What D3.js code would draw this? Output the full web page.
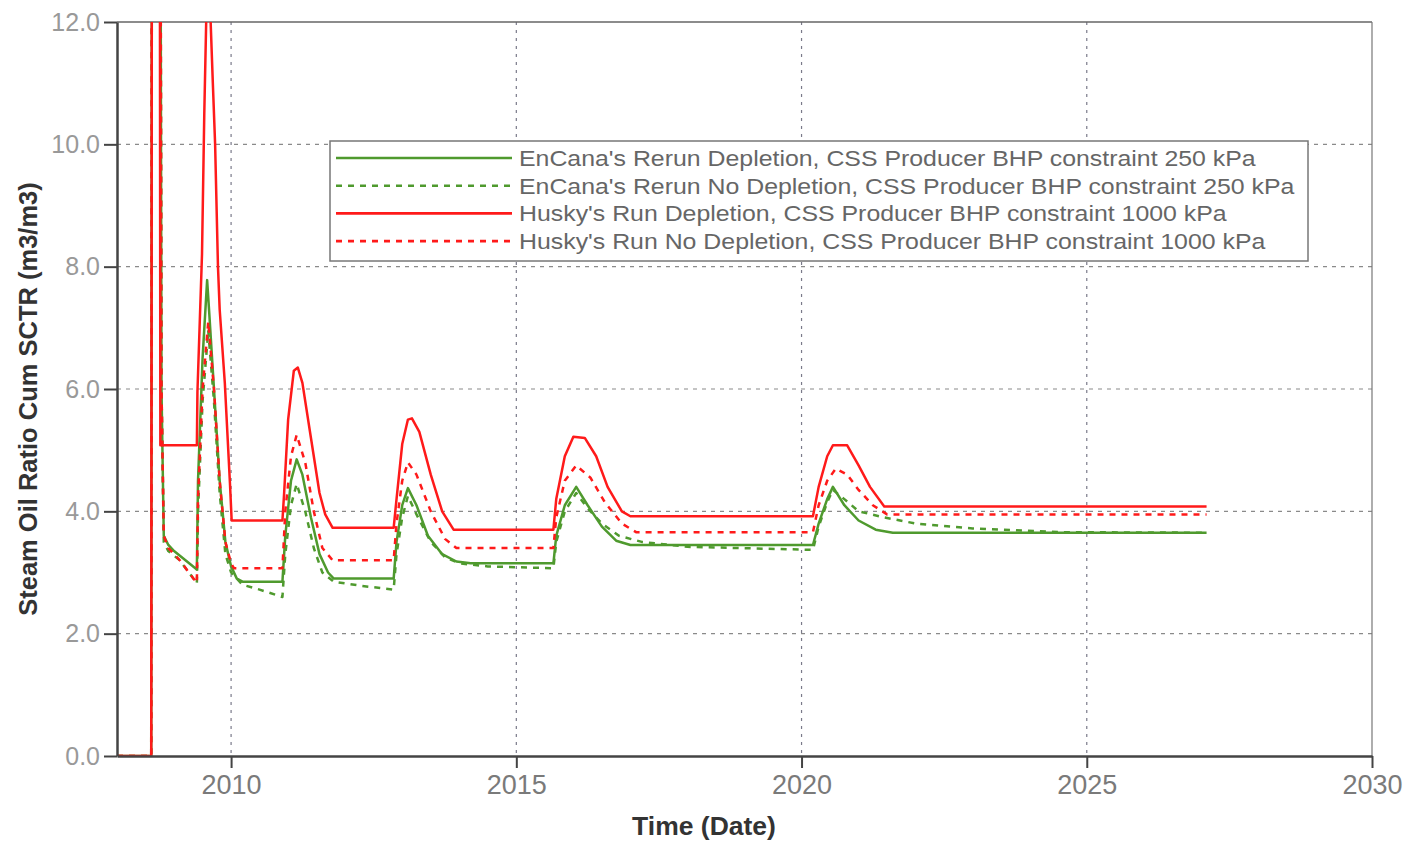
<!DOCTYPE html>
<html>
<head>
<meta charset="utf-8">
<script src="https://cdn.jsdelivr.net/npm/d3@7"></script>
<style>
  html, body { margin: 0; padding: 0; background: #fff; }
  svg { display: block; font-family: "Liberation Sans", Arial, sans-serif; }
</style>
</head>
<body>
<svg id="chart" width="1409" height="841"></svg>
<script>
// ---------- data ----------
const xTicks = [2010, 2015, 2020, 2025, 2030];
const yTicks = [0, 2, 4, 6, 8, 10, 12];
const seriesNames = [
  "EnCana's Rerun Depletion, CSS Producer BHP constraint 250 kPa",
  "EnCana's Rerun No Depletion, CSS Producer BHP constraint 250 kPa",
  "Husky's Run Depletion, CSS Producer BHP constraint 1000 kPa",
  "Husky's Run No Depletion, CSS Producer BHP constraint 1000 kPa"
];

// [year, SOR]
const encanaDepletion = [
  [2008.0,0],[2008.6,0],[2008.62,25],[2008.74,25],[2008.78,6],[2008.82,3.6],[2008.9,3.45],
  [2009.0,3.35],[2009.2,3.2],[2009.4,3.05],[2009.42,4.5],[2009.5,6.5],[2009.58,7.78],
  [2009.62,7.2],[2009.7,6.0],[2009.8,4.5],[2009.9,3.5],[2010.0,3.1],[2010.1,2.9],[2010.2,2.85],
  [2010.9,2.85],[2010.95,3.6],[2011.05,4.5],[2011.15,4.85],[2011.25,4.6],[2011.4,3.9],
  [2011.55,3.3],[2011.7,3.0],[2011.8,2.9],[2012.85,2.9],[2012.9,3.5],[2013.0,4.1],[2013.1,4.38],
  [2013.25,4.1],[2013.45,3.6],[2013.7,3.3],[2013.95,3.18],[2014.2,3.15],[2015.65,3.15],
  [2015.7,3.6],[2015.85,4.1],[2016.05,4.4],[2016.25,4.1],[2016.5,3.75],[2016.75,3.52],
  [2017.0,3.45],[2020.2,3.45],[2020.3,3.8],[2020.45,4.2],[2020.55,4.4],[2020.75,4.1],
  [2021.0,3.85],[2021.3,3.7],[2021.6,3.65],[2027.1,3.65]
];
const encanaNoDepletion = [
  [2008.0,0],[2008.6,0],[2008.62,25],[2008.74,25],[2008.78,6],[2008.82,3.5],[2008.9,3.35],
  [2009.1,3.2],[2009.3,2.95],[2009.4,2.82],[2009.42,4.0],[2009.5,5.8],[2009.6,6.95],
  [2009.7,5.8],[2009.8,4.3],[2009.9,3.3],[2010.0,3.0],[2010.2,2.8],[2010.5,2.72],[2010.9,2.6],
  [2010.95,3.3],[2011.05,4.1],[2011.15,4.45],[2011.3,4.0],[2011.45,3.4],[2011.6,3.0],
  [2011.8,2.85],[2012.3,2.78],[2012.85,2.72],[2012.9,3.3],[2013.0,3.9],[2013.1,4.25],
  [2013.25,3.95],[2013.5,3.5],[2013.75,3.25],[2014.0,3.15],[2014.5,3.1],[2015.65,3.07],
  [2015.7,3.5],[2015.85,4.0],[2016.05,4.3],[2016.25,4.05],[2016.5,3.8],[2016.8,3.6],
  [2017.2,3.5],[2018.0,3.42],[2020.2,3.37],[2020.3,3.75],[2020.45,4.15],[2020.55,4.35],
  [2020.75,4.2],[2021.0,4.0],[2021.45,3.9],[2022.0,3.8],[2023.0,3.72],[2024.5,3.66],[2027.1,3.65]
];
const huskyDepletion = [
  [2008.0,0],[2008.6,0],[2008.62,25],[2008.74,25],[2008.76,5.08],[2009.4,5.08],[2009.41,5.95],
  [2009.49,8.2],[2009.53,10.5],[2009.57,12.3],[2009.63,12.3],[2009.68,11.0],[2009.72,10.0],
  [2009.77,8.0],[2009.8,7.3],[2009.89,6.1],[2009.98,4.46],[2010.01,3.85],[2010.9,3.85],
  [2010.93,4.3],[2011.0,5.5],[2011.1,6.3],[2011.17,6.35],[2011.25,6.1],[2011.4,5.2],
  [2011.55,4.3],[2011.65,3.95],[2011.78,3.73],[2012.85,3.73],[2012.9,4.2],[2013.0,5.1],
  [2013.1,5.5],[2013.17,5.52],[2013.3,5.3],[2013.5,4.6],[2013.7,4.0],[2013.9,3.7],
  [2015.65,3.7],[2015.7,4.2],[2015.85,4.9],[2016.0,5.22],[2016.2,5.2],[2016.4,4.9],
  [2016.6,4.4],[2016.85,4.0],[2017.0,3.92],[2020.2,3.92],[2020.3,4.4],[2020.45,4.9],
  [2020.55,5.08],[2020.8,5.08],[2021.0,4.75],[2021.2,4.4],[2021.45,4.08],[2027.1,4.08]
];
const huskyNoDepletion = [
  [2008.0,0],[2008.6,0],[2008.62,25],[2008.74,25],[2008.78,6],[2008.82,3.6],[2008.9,3.4],
  [2009.1,3.2],[2009.3,2.95],[2009.4,2.83],[2009.42,4.2],[2009.5,6.0],[2009.6,7.1],
  [2009.7,6.0],[2009.8,4.5],[2009.9,3.5],[2010.0,3.15],[2010.05,3.07],[2010.9,3.07],
  [2010.95,4.0],[2011.05,4.9],[2011.15,5.25],[2011.3,4.8],[2011.45,4.0],[2011.6,3.4],
  [2011.78,3.2],[2012.85,3.2],[2012.9,3.8],[2013.0,4.5],[2013.1,4.8],[2013.25,4.6],
  [2013.5,4.0],[2013.75,3.55],[2013.95,3.4],[2015.65,3.4],[2015.7,3.9],[2015.85,4.5],
  [2016.05,4.75],[2016.3,4.55],[2016.55,4.15],[2016.85,3.8],[2017.1,3.66],[2020.2,3.66],
  [2020.3,4.1],[2020.45,4.5],[2020.6,4.7],[2020.8,4.6],[2021.0,4.35],[2021.25,4.1],
  [2021.5,3.95],[2027.1,3.95]
];

// ---------- layout ----------
const svg = d3.select("#chart");
const M = { left: 117, right: 1372, top: 22, bottom: 756 };
const x = d3.scaleLinear().domain([2008, 2030]).range([M.left, M.right]);
const y = d3.scaleLinear().domain([0, 12]).range([M.bottom, M.top]);

const GREEN = "#4f9a2e", RED = "#ff1a1a";
const series = [
  { name: seriesNames[0], data: encanaDepletion,   color: GREEN, dash: null },
  { name: seriesNames[1], data: encanaNoDepletion, color: GREEN, dash: "6,6" },
  { name: seriesNames[2], data: huskyDepletion,    color: RED,   dash: null },
  { name: seriesNames[3], data: huskyNoDepletion,  color: RED,   dash: "6,6" }
];

// grid
const grid = svg.append("g");
grid.selectAll("line.hg").data(yTicks.filter(d => d > 0 && d < 12)).enter().append("line")
  .attr("x1", M.left).attr("x2", M.right)
  .attr("y1", d => y(d)).attr("y2", d => y(d))
  .attr("stroke", "#8a8a8a").attr("stroke-width", 1.2).attr("stroke-dasharray", "4,5");
grid.selectAll("line.vg").data(xTicks.filter(d => d < 2030)).enter().append("line")
  .attr("x1", d => x(d)).attr("x2", d => x(d))
  .attr("y1", M.top).attr("y2", M.bottom)
  .attr("stroke", "#7a7a8a").attr("stroke-width", 1.2).attr("stroke-dasharray", "3,5");

// frame top/right
svg.append("line").attr("x1", M.left).attr("x2", M.right).attr("y1", M.top).attr("y2", M.top)
  .attr("stroke", "#666").attr("stroke-width", 1.5);
svg.append("line").attr("x1", M.right).attr("x2", M.right).attr("y1", M.top).attr("y2", M.bottom)
  .attr("stroke", "#777").attr("stroke-width", 1.2);

// clip
svg.append("clipPath").attr("id", "clip").append("rect")
  .attr("x", M.left).attr("y", M.top).attr("width", M.right - M.left).attr("height", M.bottom - M.top);

const line = d3.line().x(d => x(d[0])).y(d => y(d[1]));
const plot = svg.append("g").attr("clip-path", "url(#clip)");
[1, 0, 3, 2].forEach(i => {
  const s = series[i];
  plot.append("path").datum(s.data)
    .attr("fill", "none").attr("stroke", s.color)
    .attr("stroke-width", 2.5)
    .attr("stroke-dasharray", s.dash)
    .attr("stroke-linejoin", "round")
    .attr("d", line);
});

// axes
const xAxis = d3.axisBottom(x).tickValues(xTicks).tickFormat(d3.format("d")).tickSize(12).tickSizeOuter(0).tickPadding(6);
const gx = svg.append("g").attr("transform", `translate(0,${M.bottom})`).call(xAxis);
gx.select(".domain").attr("stroke", "#444").attr("stroke-width", 2.5);
gx.selectAll(".tick line").attr("stroke", "#444").attr("stroke-width", 2);
gx.selectAll(".tick text").attr("fill", "#7a7a7a").attr("font-size", 27).attr("dy", "0.75em")
  .attr("font-family", "Liberation Sans, Arial, sans-serif");

const yAxis = d3.axisLeft(y).tickValues(yTicks).tickFormat(d3.format(".1f")).tickSize(13).tickSizeOuter(0).tickPadding(4);
const gy = svg.append("g").attr("transform", `translate(${M.left},0)`).call(yAxis);
gy.select(".domain").attr("stroke", "#444").attr("stroke-width", 2.5);
gy.selectAll(".tick line").attr("stroke", "#444").attr("stroke-width", 2);
gy.selectAll(".tick text").attr("fill", "#999").attr("font-size", 25)
  .attr("font-family", "Liberation Sans, Arial, sans-serif");

// axis titles
svg.append("text").attr("x", 704).attr("y", 835).attr("text-anchor", "middle")
  .attr("font-size", 26.5).attr("font-weight", "bold").attr("fill", "#333").text("Time (Date)");
svg.append("text").attr("transform", `translate(37,${(M.top + M.bottom) / 2 + 10}) rotate(-90)`)
  .attr("text-anchor", "middle").attr("font-size", 25.5).attr("font-weight", "bold")
  .attr("fill", "#333").text("Steam Oil Ratio Cum SCTR (m3/m3)");

// legend
const lg = svg.append("g");
lg.append("rect").attr("x", 330).attr("y", 141).attr("width", 978).attr("height", 120)
  .attr("fill", "#fff").attr("stroke", "#777").attr("stroke-width", 1.5);
series.forEach((s, i) => {
  const yy = 158 + i * 27.7;
  lg.append("line").attr("x1", 336).attr("x2", 512).attr("y1", yy).attr("y2", yy)
    .attr("stroke", s.color).attr("stroke-width", 2.6).attr("stroke-dasharray", s.dash);
  lg.append("text").attr("transform", `translate(519,${yy + 8}) scale(1.157,1)`)
    .attr("font-size", 21.5).attr("fill", "#666").text(s.name);
});
</script>
</body>
</html>
